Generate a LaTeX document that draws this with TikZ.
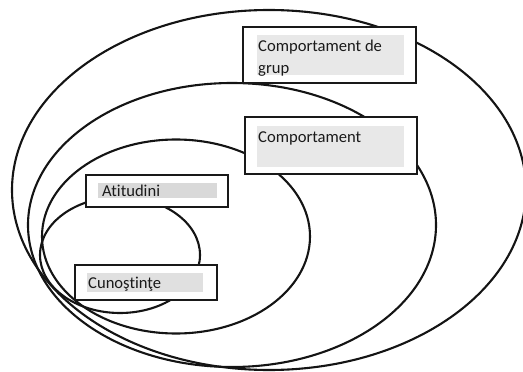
\documentclass[tikz,border=0pt]{standalone}
\usepackage{fontspec}
\setmainfont{Carlito}[Ligatures=NoCommon]
\definecolor{txt}{HTML}{1A1A1A}
\definecolor{greyA}{HTML}{E8E8E8}
\definecolor{greyB}{HTML}{D9D9D9}
\definecolor{greyC}{HTML}{E0E0E0}
\tikzset{
  ring/.style={draw=black!92, line width=2.1pt},
  framebox/.style={draw=black!90, line width=2.9pt, fill=white, inner sep=0pt},
  shade/.style={inner sep=0pt, draw=none},
  lbl/.style={anchor=base west, inner sep=0pt, text=txt, font=\fontsize{16.6}{21}\selectfont}
}
\begin{document}
\begin{tikzpicture}[x=1pt,y=-1pt]
\useasboundingbox (0,0) rectangle (523,372);
% ellipses
\draw[ring] (269,190) ellipse [x radius=257, y radius=180];
\draw[ring] (232,225) ellipse [x radius=204, y radius=142];
\draw[ring] (176,236.5) ellipse [x radius=134, y radius=97];
\draw[ring] (120,255) ellipse [x radius=80, y radius=58];
% Comportament de grup
\node[framebox, minimum width=173pt, minimum height=56pt] (grupbox) at (329.5,55) {};
\node[shade, fill=greyA, minimum width=147pt, minimum height=40pt] (grupshade) at (330.5,55) {};
\node[lbl] (grup1) at (258,52) {Comportament de};
\node[lbl] (grup2) at (258,73) {grup};
% Comportament
\node[framebox, minimum width=172pt, minimum height=57pt] (compbox) at (331,145.5) {};
\node[shade, fill=greyA, minimum width=147pt, minimum height=41pt] (compshade) at (330.5,146.5) {};
\node[lbl] (comp) at (258,142) {Comportament};
% Atitudini
\node[framebox, minimum width=142pt, minimum height=32pt] (atbox) at (157,191) {};
\node[shade, fill=greyB, minimum width=119pt, minimum height=15pt] (atshade) at (157.5,190.5) {};
\node[lbl] (at) at (102,196.5) {Atitudini};
% Cunostinte
\node[framebox, minimum width=142pt, minimum height=35pt] (cunbox) at (146,282.5) {};
\node[shade, fill=greyC, minimum width=116pt, minimum height=19pt] (cunshade) at (145,282.5) {};
\node[lbl] (cun) at (88,288) {Cunoştinţe};
\end{tikzpicture}
\end{document}
